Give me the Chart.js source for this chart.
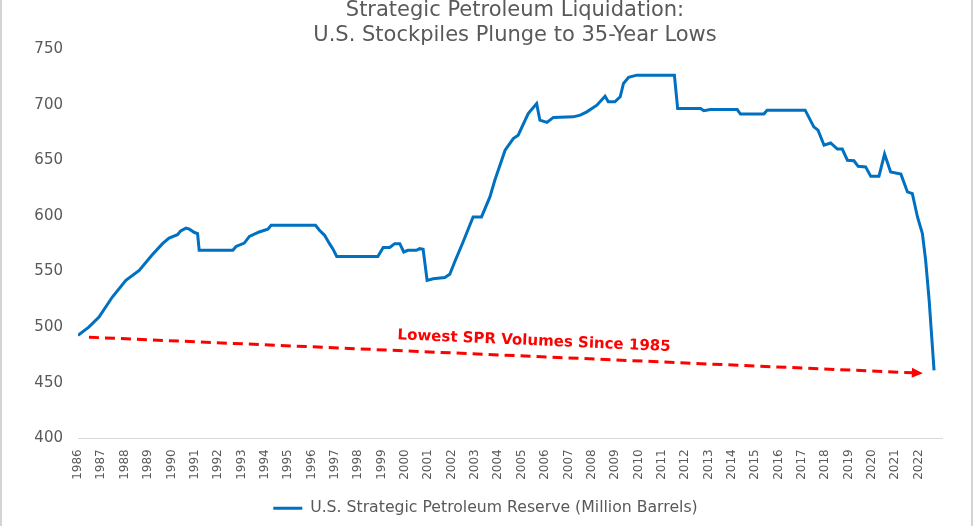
<!DOCTYPE html>
<html>
<head>
<meta charset="utf-8">
<script src="https://cdn.jsdelivr.net/npm/chart.js@4.4.1/dist/chart.umd.min.js"></script>
<style>
  html, body { margin: 0; padding: 0; background: #fff; }
  .wrap { position: relative; width: 975px; height: 526px; }
  .wrap:before { content: ''; position: absolute; left: 0; top: 0; bottom: 0; width: 2px; background: #d4d4d4; }
  .wrap:after { content: ''; position: absolute; left: 971px; top: 0; bottom: 0; width: 2px; background: #d4d4d4; }
</style>
</head>
<body>
<div class="wrap"><canvas id="sprChart" width="975" height="526"></canvas></div>
<script>
const titleLines = ['Strategic Petroleum Liquidation:', 'U.S. Stockpiles Plunge to 35-Year Lows'];
const seriesLabel = 'U.S. Strategic Petroleum Reserve (Million Barrels)';

// year (decimal) / million barrels
const years = [
  1986.0, 1986.46, 1986.9, 1987.47, 1988.05, 1988.62, 1989.18, 1989.62, 1989.9, 1990.26,
  1990.4, 1990.62, 1990.77, 1990.99, 1991.12, 1991.19, 1992.63, 1992.77, 1993.12, 1993.34,
  1993.76, 1994.13, 1994.27, 1996.17, 1996.34, 1996.56, 1996.77, 1996.91, 1997.08, 1998.84,
  1999.07, 1999.35, 1999.56, 1999.78, 1999.95, 2000.13, 2000.49, 2000.63, 2000.78, 2000.95,
  2001.21, 2001.71, 2001.92, 2002.13, 2002.49, 2002.92, 2003.28, 2003.64, 2003.85, 2004.29,
  2004.64, 2004.85, 2005.28, 2005.64, 2005.78, 2006.08, 2006.36, 2007.21, 2007.51, 2007.79,
  2008.22, 2008.57, 2008.71, 2008.99, 2009.22, 2009.36, 2009.58, 2009.93, 2011.54, 2011.68,
  2012.66, 2012.8, 2013.08, 2014.23, 2014.37, 2015.37, 2015.51, 2017.14, 2017.51, 2017.69,
  2017.95, 2018.23, 2018.52, 2018.73, 2018.95, 2019.23, 2019.41, 2019.73, 2019.95, 2020.3,
  2020.54, 2020.8, 2021.24, 2021.52, 2021.73, 2021.95, 2022.16, 2022.3, 2022.45, 2022.55,
  2022.66
];
const reserve = [
  492.5, 500, 509, 527, 542, 551, 565, 575, 580, 583,
  586.5, 589, 588, 585, 584, 569, 569, 572.5, 575.5, 581.5,
  585.5, 588, 591.5, 591.5, 587, 582.5, 575, 570.5, 563.5, 563.5,
  571.5, 571.5, 575, 575, 567.5, 569, 569, 570.5, 570, 542,
  543.5, 544.5, 547.5, 558.5, 576.5, 599, 599, 617, 632, 659,
  669.5, 672.5, 692, 701, 686, 684, 688.5, 689, 690.5, 693.5,
  699.5, 707.5, 702.5, 702.5, 707, 719, 724.5, 726.5, 726.5, 696.5,
  696.5, 694.5, 695.5, 695.5, 691.5, 691.5, 695, 695, 680, 677,
  663.5, 665.5, 660, 660, 650, 649.5, 644.5, 644, 635.5, 635.5,
  655.5, 639.5, 637.5, 621.5, 620, 599, 584, 560, 524, 494,
  461
];

// annotation arrow, in data units
const arrowFrom = [1986.47, 490.9];
const arrowTo = [2022.18, 458.5];
const noteText = 'Lowest SPR Volumes Since 1985';
const noteAt = [2005.53, 487.3];

const grey = '#595959';

const titlePlugin = {
  id: 'twoLineTitle',
  afterDraw(chart) {
    const c = chart.ctx;
    const mid = (chart.chartArea.left + chart.chartArea.right) / 2 + 5;
    c.save();
    c.fillStyle = grey;
    c.font = '21px "DejaVu Sans"';
    c.textAlign = 'center';
    c.textBaseline = 'middle';
    titleLines.forEach((t, i) => c.fillText(t, mid, 11 + i * 25));
    c.restore();
  }
};

const arrowPlugin = {
  id: 'arrowNote',
  afterDatasetsDraw(chart) {
    const c = chart.ctx;
    const xs = chart.scales.x, ys = chart.scales.y;
    const x1 = xs.getPixelForValue(arrowFrom[0]), y1 = ys.getPixelForValue(arrowFrom[1]);
    const x2 = xs.getPixelForValue(arrowTo[0]), y2 = ys.getPixelForValue(arrowTo[1]);
    const ang = Math.atan2(y2 - y1, x2 - x1);
    c.save();
    c.strokeStyle = '#ff0000';
    c.fillStyle = '#ff0000';
    c.lineWidth = 3;
    c.setLineDash([10, 6]);
    c.beginPath();
    c.moveTo(x1, y1);
    c.lineTo(x2 - 9 * Math.cos(ang), y2 - 9 * Math.sin(ang));
    c.stroke();
    c.setLineDash([]);
    c.translate(x2, y2);
    c.rotate(ang);
    c.beginPath();
    c.moveTo(0, 0);
    c.lineTo(-11, -5);
    c.lineTo(-11, 5);
    c.closePath();
    c.fill();
    c.restore();

    c.save();
    c.translate(xs.getPixelForValue(noteAt[0]), ys.getPixelForValue(noteAt[1]));
    c.rotate(ang);
    c.font = 'bold 15px "DejaVu Sans"';
    c.fillStyle = '#ff0000';
    c.textAlign = 'center';
    c.textBaseline = 'middle';
    c.fillText(noteText, 0, 0);
    c.restore();
  }
};

new Chart(document.getElementById('sprChart'), {
  type: 'line',
  data: {
    datasets: [{
      label: seriesLabel,
      data: years.map((yr, i) => ({ x: yr, y: reserve[i] })),
      borderColor: '#0070c0',
      backgroundColor: '#0070c0',
      borderWidth: 3,
      pointRadius: 0,
      tension: 0,
      fill: false
    }]
  },
  options: {
    responsive: false,
    animation: false,
    layout: { padding: { left: 29, right: 33, top: 49, bottom: 0 } },
    plugins: {
      title: { display: false },
      tooltip: { enabled: false },
      legend: {
        position: 'bottom',
        labels: {
          usePointStyle: true,
          pointStyle: 'line',
          pointStyleWidth: 29,
          padding: 10,
          color: grey,
          font: { family: 'DejaVu Sans', size: 15.7 }
        }
      }
    },
    scales: {
      x: {
        type: 'linear',
        min: 1986,
        max: 2023,
        grid: { display: false, drawTicks: false },
        border: { display: true, color: '#d9d9d9', width: 1 },
        ticks: {
          stepSize: 1,
          includeBounds: false,
          autoSkip: false,
          minRotation: 90,
          maxRotation: 90,
          padding: 11,
          color: grey,
          font: { family: 'DejaVu Sans', size: 12 },
          callback: v => (v <= 2022 ? String(v) : null)
        },
        afterFit: s => { s.height = 52; }
      },
      y: {
        min: 400,
        max: 750,
        grid: { display: false, drawTicks: false },
        border: { display: false },
        ticks: {
          stepSize: 50,
          padding: 15,
          color: grey,
          font: { family: 'DejaVu Sans', size: 15 }
        },
        afterFit: s => { s.width = 49; }
      }
    }
  },
  plugins: [titlePlugin, arrowPlugin]
});
</script>
</body>
</html>
